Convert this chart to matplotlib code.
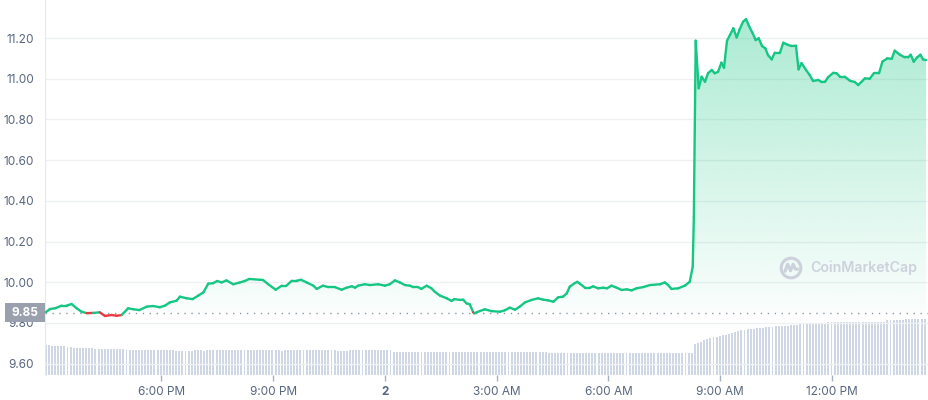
import numpy as np
import matplotlib.pyplot as plt
from matplotlib.collections import LineCollection
from matplotlib.path import Path
from matplotlib.patches import PathPatch, Circle

plt.rcParams['font.family'] = ['Inter', 'DejaVu Sans']

# hours relative to midnight of day "2"
hours = [-9.10, -8.99, -8.85, -8.67, -8.54, -8.41, -8.27, -8.14, -8.00, -7.83,
         -7.65, -7.51, -7.33, -7.20, -7.06, -6.89, -6.75, -6.59, -6.39, -6.22,
         -6.04, -5.90, -5.77, -5.59, -5.50, -5.32, -5.16, -5.01, -4.87, -4.74,
         -4.61, -4.50, -4.38, -4.25, -4.07, -3.89, -3.76, -3.64, -3.35, -3.27,
         -3.13, -2.93, -2.77, -2.64, -2.50, -2.37, -2.25, -2.10, -1.92, -1.83,
         -1.66, -1.52, -1.34, -1.16, -1.03, -0.89, -0.80, -0.72, -0.54, -0.40,
         -0.18, 0.00, 0.13, 0.27, 0.40, 0.54, 0.67, 0.76, 0.89, 0.98,
         1.12, 1.25, 1.34, 1.48, 1.66, 1.79, 1.86, 2.01, 2.10, 2.19,
         2.28, 2.37, 2.40, 2.50, 2.68, 2.86, 3.09, 3.22, 3.35, 3.49,
         3.62, 3.76, 3.94, 4.11, 4.25, 4.38, 4.52, 4.65, 4.78, 4.88,
         4.96, 5.10, 5.16, 5.23, 5.37, 5.50, 5.59, 5.72, 5.86, 5.96,
         6.08, 6.22, 6.35, 6.49, 6.62, 6.75, 6.93, 7.11, 7.38, 7.51,
         7.60, 7.69, 7.87, 8.05, 8.18, 8.26, 8.29, 8.34, 8.42, 8.50,
         8.59, 8.67, 8.77, 8.85, 8.94, 9.03, 9.10, 9.18, 9.26, 9.35,
         9.44, 9.52, 9.61, 9.69, 9.77, 9.87, 9.95, 10.03, 10.12, 10.21,
         10.28, 10.38, 10.46, 10.60, 10.69, 10.82, 10.91, 11.03, 11.10, 11.18,
         11.30, 11.40, 11.49, 11.63, 11.72, 11.81, 11.89, 12.03, 12.12, 12.21,
         12.34, 12.48, 12.61, 12.70, 12.79, 12.88, 13.01, 13.12, 13.26, 13.35,
         13.48, 13.60, 13.68, 13.82, 13.95, 14.04, 14.11, 14.19, 14.28, 14.37,
         14.44, 14.52]

price = [9.852, 9.868, 9.872, 9.885, 9.885, 9.893, 9.872, 9.855, 9.848, 9.849,
         9.852, 9.834, 9.839, 9.835, 9.839, 9.872, 9.867, 9.863, 9.880, 9.883,
         9.877, 9.885, 9.901, 9.909, 9.929, 9.921, 9.917, 9.934, 9.950, 9.993,
         9.995, 10.006, 9.999, 10.009, 9.990, 9.999, 10.006, 10.016, 10.012, 10.011,
         9.990, 9.963, 9.983, 9.983, 10.007, 10.007, 10.012, 9.999, 9.983, 9.967,
         9.983, 9.976, 9.976, 9.963, 9.973, 9.980, 9.973, 9.983, 9.990, 9.986,
         9.990, 9.983, 9.990, 10.009, 9.999, 9.986, 9.983, 9.976, 9.976, 9.967,
         9.983, 9.970, 9.953, 9.934, 9.921, 9.908, 9.917, 9.913, 9.914, 9.896,
         9.891, 9.852, 9.847, 9.855, 9.867, 9.858, 9.855, 9.862, 9.875, 9.865,
         9.880, 9.901, 9.913, 9.921, 9.914, 9.911, 9.904, 9.926, 9.929, 9.945,
         9.978, 9.996, 10.002, 9.993, 9.973, 9.973, 9.980, 9.970, 9.973, 9.970,
         9.983, 9.973, 9.962, 9.965, 9.960, 9.970, 9.976, 9.986, 9.990, 9.999,
         9.986, 9.967, 9.970, 9.983, 10.002, 10.076, 10.322, 11.187, 10.953, 11.010,
         10.985, 11.027, 11.043, 11.027, 11.034, 11.079, 11.054, 11.187, 11.215, 11.248,
         11.203, 11.243, 11.280, 11.293, 11.259, 11.223, 11.190, 11.199, 11.161, 11.149,
         11.116, 11.095, 11.128, 11.128, 11.177, 11.166, 11.161, 11.162, 11.046, 11.077,
         11.043, 11.018, 10.989, 10.994, 10.984, 10.985, 11.007, 11.029, 11.027, 11.010,
         11.010, 10.990, 10.984, 10.969, 10.985, 11.002, 11.000, 11.027, 11.027, 11.084,
         11.100, 11.098, 11.138, 11.118, 11.105, 11.105, 11.118, 11.084, 11.105, 11.118,
         11.095, 11.092]

open_price = 9.85

# 24h volume, one bar every 5 minutes (relative units)
volume = ([30] * 2 + [29] * 5 + [28] * 2 + [27] * 7 + [26] * 10 + [25] * 16 +
          [24] * 6 + [25] * 3 + [24] * 1 + [25] * 24 + [24] * 1 + [25] * 17 +
          [24] * 4 + [25] * 14 + [23] * 50 + [22] * 47 +
          [31, 32, 33, 35, 36, 37, 38, 38, 39, 40, 40, 41, 42, 43, 44, 45, 45,
           46, 46, 46, 47, 47, 47, 48, 48, 48, 49, 49, 49, 49, 49, 50, 50, 50,
           51, 51, 51, 51, 52, 52, 52, 52, 52] +
          [53] * 19 + [55] * 6 + [56] * 7)
vol_start = -9.10
vol_step = 5 / 60

tick_pos = [-6, -3, 0, 3, 6, 9, 12]
tick_labels = ['6:00 PM', '9:00 PM', '2', '3:00 AM', '6:00 AM', '9:00 AM', '12:00 PM']
ytick_vals = [9.60, 9.80, 10.00, 10.20, 10.40, 10.60, 10.80, 11.00, 11.20]

green = '#16c784'
red = '#ea3943'
label_col = '#58667e'

W, H = 929, 400
fig = plt.figure(figsize=(W / 100, H / 100), dpi=100)
ax = fig.add_axes([45 / W, 25 / H, 884 / W, 375 / H])
vax = ax.twinx()
vax.set_zorder(ax.get_zorder() - 1)
ax.patch.set_visible(False)

x = np.array(hours)
y = np.array(price)
xmin, xmax = -9.12, 14.60
ymin, ymax = 9.544, 11.387

# volume bars
vt = vol_start + vol_step * np.arange(len(volume))
vax.bar(vt, volume, width=vol_step * 0.62, color='#cfd6e4', linewidth=0)
vax.set_ylim(0, 375)
vax.set_yticks([])
for s in vax.spines.values():
    s.set_visible(False)

# gradient fill between line and open price
poly_x = np.concatenate([x, x[::-1]])
poly_y = np.concatenate([np.maximum(y, open_price), np.full(len(x), open_price)])
clip = PathPatch(Path(np.column_stack([poly_x, poly_y])), facecolor='none',
                 edgecolor='none', transform=ax.transData)
ax.add_patch(clip)
grad = np.zeros((100, 1, 4))
grad[:, 0, :3] = np.array([22, 199, 132]) / 255
grad[:, 0, 3] = np.linspace(0.02, 0.36, 100)
im = ax.imshow(grad, extent=[xmin, xmax, open_price, 11.30], origin='lower',
               aspect='auto', zorder=1, interpolation='bilinear')
im.set_clip_path(clip)

# price line, red below the open price
pts = np.column_stack([x, y]).reshape(-1, 1, 2)
segs = np.concatenate([pts[:-1], pts[1:]], axis=1)
mid = (y[:-1] + y[1:]) / 2
cols = [red if m < open_price else green for m in mid]
lc = LineCollection(segs, colors=cols, linewidths=1.7, zorder=3,
                    capstyle='round', joinstyle='round')
ax.add_collection(lc)

ax.axhline(open_price, color='#8e96a6', lw=1, linestyle=(0, (1, 4)), zorder=2)

ax.set_xlim(xmin, xmax)
ax.set_ylim(ymin, ymax)
ax.set_yticks(ytick_vals)
ax.set_yticklabels([f'{v:.2f}' for v in ytick_vals])
ax.grid(axis='y', color='#eef0f3', lw=1)
ax.set_axisbelow(True)
ax.set_xticks(tick_pos)
ax.set_xticklabels(tick_labels)
ax.tick_params(axis='y', length=0, pad=8, labelsize=8.5, labelcolor=label_col)
ax.tick_params(axis='x', length=4, width=1, color='#a6b0c3', pad=4,
               labelsize=8.5, labelcolor=label_col)
for lab in ax.get_xticklabels():
    if lab.get_text() == '2':
        lab.set_fontweight('bold')
for name in ['top', 'right', 'bottom']:
    ax.spines[name].set_visible(False)
ax.spines['left'].set_color('#e6e8ec')

# open price badge
badge = plt.Rectangle((5 / W, 1 - 322 / H), 40 / W, 19 / H, transform=fig.transFigure,
                      fc='#9aa0ad', ec='none', zorder=5)
fig.patches.append(badge)
fig.text(25 / W, 1 - 312.5 / H, f'{open_price:.2f}', ha='center', va='center',
         color='white', fontsize=8.5, fontweight='bold', zorder=6)

# watermark
fig.text(810 / W, 1 - 268 / H, 'CoinMarketCap', ha='left', va='center',
         color='#cdd1dc', fontsize=10.2, fontweight='semibold')
lax = fig.add_axes([779 / W, 1 - 280 / H, 24 / W, 24 / H])
lax.set_xlim(-1.1, 1.1)
lax.set_ylim(-1.1, 1.1)
lax.axis('off')
lax.add_patch(Circle((0, 0), 0.9, fill=False, ec='#cdd1dc', lw=2.2))
lax.plot([-0.55, -0.3, -0.05, 0.2, 0.4, 0.6], [-0.3, 0.35, -0.25, 0.35, -0.1, -0.1],
         color='#cdd1dc', lw=2.2, solid_capstyle='round')

fig.savefig('out.png', dpi=100)
